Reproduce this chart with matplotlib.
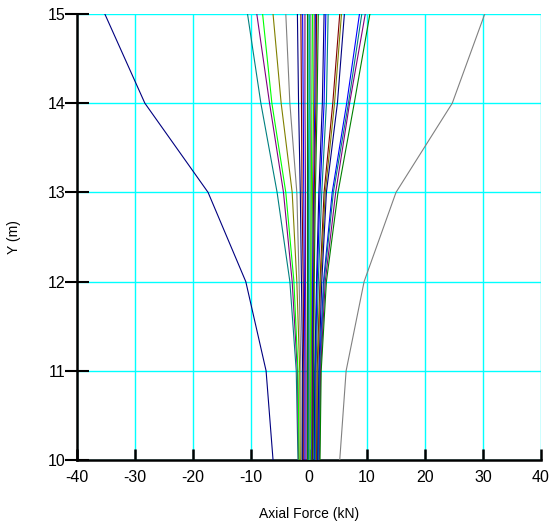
import matplotlib
matplotlib.use("Agg")
import matplotlib.pyplot as plt

plt.rcParams["font.family"] = ["Liberation Sans", "DejaVu Sans"]
plt.rcParams["axes.unicode_minus"] = False

# ----------------------------
# Data (axial force in kN at each depth)
# ----------------------------
y_levels = [10, 11, 12, 13, 14, 15]

x_ticks = [-40, -30, -20, -10, 0, 10, 20, 30, 40]
y_ticks = [10, 11, 12, 13, 14, 15]

forces = [
    [-6.2, -7.4, -10.9, -17.4, -28.3, -35.2],
    [-1.9, -2.2, -3.3, -5.5, -8.3, -10.6],
    [-1.8, -2.0, -2.9, -4.4, -6.8, -9.0],
    [-1.7, -1.9, -2.6, -4.0, -6.4, -8.0],
    [-1.5, -1.6, -2.1, -2.9, -4.8, -6.2],
    [-1.3, -1.4, -1.7, -2.1, -3.3, -4.0],
    [-1.1, -1.1, -1.3, -1.5, -1.8, -2.0],
    [-0.9, -0.9, -1.0, -1.2, -1.3, -1.4],
    [-0.7, -0.7, -0.8, -0.9, -1.0, -1.1],
    [-0.5, -0.5, -0.6, -0.6, -0.7, -0.7],
    [-0.3, -0.3, -0.3, -0.3, -0.3, -0.3],
    [-0.1, -0.1, -0.1, -0.1, 0.0, 0.0],
    [0.1, 0.1, 0.2, 0.2, 0.3, 0.3],
    [0.2, 0.3, 0.3, 0.4, 0.5, 0.6],
    [0.4, 0.4, 0.5, 0.6, 0.8, 0.9],
    [0.5, 0.6, 0.6, 0.8, 1.0, 1.1],
    [0.6, 0.7, 0.8, 0.9, 1.2, 1.3],
    [0.7, 0.8, 0.9, 1.1, 1.4, 1.6],
    [0.9, 1.0, 1.3, 1.7, 2.3, 2.6],
    [1.0, 1.1, 1.4, 1.9, 2.6, 2.9],
    [1.1, 1.2, 1.6, 2.2, 3.0, 3.3],
    [1.3, 1.4, 1.9, 2.6, 4.1, 5.3],
    [1.4, 1.5, 2.0, 2.8, 4.4, 5.6],
    [1.5, 1.7, 2.2, 3.0, 4.9, 6.1],
    [1.6, 1.8, 2.5, 4.0, 6.5, 8.7],
    [1.7, 1.9, 2.6, 4.2, 6.8, 9.1],
    [1.8, 2.0, 2.8, 4.6, 7.0, 9.7],
    [1.9, 2.1, 3.0, 5.0, 7.8, 10.5],
    [5.3, 6.4, 9.5, 15.0, 24.7, 30.3],
]

colors = [
    "#000080", "#008080", "#800080", "#00FF00", "#808000", "#808080",
    "#000080", "#800000", "#0000FF", "#800080", "#008000", "#008080",
    "#808080", "#00FF00", "#808000", "#0000FF", "#800000", "#008000",
    "#000080", "#0000FF", "#008080", "#800000", "#808000", "#000080",
    "#0000FF", "#008080", "#800080", "#008000", "#808080",
]

# ----------------------------
# Plot
# ----------------------------
fig = plt.figure(figsize=(5.52, 5.27), dpi=100)
ax = fig.add_axes([77 / 552, 1 - 460 / 527, 464 / 552, 446 / 527])

for vals, c in zip(forces, colors):
    ax.plot(vals, y_levels, color=c, linewidth=0.8, zorder=3)

ax.set_xlim(-40, 40)
ax.set_ylim(10, 15)
ax.set_xticks(x_ticks)
ax.set_yticks(y_ticks)

ax.grid(True, color="#00FFFF", linewidth=1.0, zorder=1)
ax.set_axisbelow(True)

for side in ["top", "right"]:
    ax.spines[side].set_visible(False)
ax.spines["left"].set_linewidth(1.8)
ax.spines["bottom"].set_linewidth(1.8)

ax.tick_params(axis="y", direction="inout", length=17, width=1.5,
               pad=0, labelsize=11.5)
ax.tick_params(axis="x", direction="in", length=8, width=1.8,
               pad=7, labelsize=11.5)

ax.set_xlabel("Axial Force (kN)", fontsize=10, labelpad=16)
ax.set_ylabel("Y (m)", fontsize=10, labelpad=19)

plt.savefig("out.png", dpi=100)
plt.close()

print("✓ Chart saved")
